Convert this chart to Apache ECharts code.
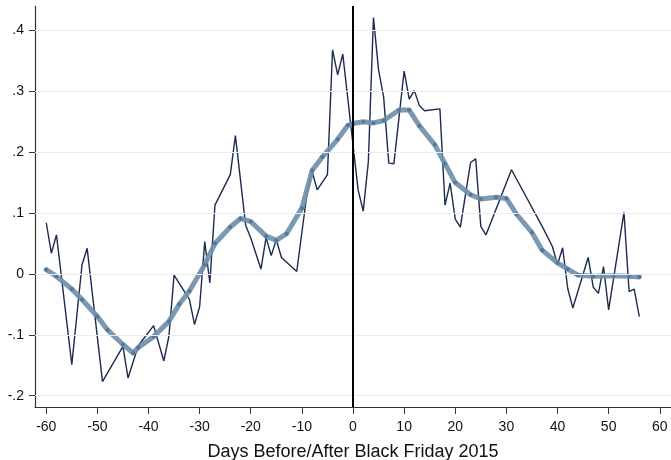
<!DOCTYPE html>
<html>
<head>
<meta charset="utf-8">
<script src="https://cdn.jsdelivr.net/npm/echarts@6/dist/echarts.min.js"></script>
<style>
  html, body { margin: 0; padding: 0; background: #fff; }
  #chart { width: 671px; height: 460px; }
</style>
</head>
<body>
<div id="chart"></div>
<script>
// Daily series around Black Friday 2015 (days relative to the event)
const rawDays = [-60, -59, -58, -55, -53, -52, -49, -45, -44, -42, -39, -37, -36, -35, -32, -31, -30, -29, -28, -27,
  -24, -23, -21, -20, -18, -17, -16, -15, -14, -11, -9, -8, -7, -5, -4, -3, -2, 1, 2, 3,
  4, 5, 6, 7, 8, 10, 11, 12, 13, 14, 17, 18, 19, 20, 21, 23, 24, 25, 26, 31,
  37, 39, 40, 41, 42, 43, 46, 47, 48, 49, 50, 53, 54, 55, 56];
const rawValues = [0.084, 0.034, 0.064, -0.149, 0.015, 0.042, -0.177, -0.119, -0.171, -0.118, -0.085, -0.143, -0.102, -0.002, -0.042, -0.083, -0.054, 0.053, -0.015, 0.113,
  0.163, 0.227, 0.080, 0.059, 0.008, 0.060, 0.030, 0.056, 0.027, 0.004, 0.132, 0.168, 0.138, 0.163, 0.368, 0.327, 0.361, 0.138, 0.103, 0.184,
  0.421, 0.335, 0.290, 0.182, 0.181, 0.333, 0.287, 0.301, 0.276, 0.268, 0.271, 0.113, 0.149, 0.090, 0.077, 0.183, 0.189, 0.078, 0.064, 0.171,
  0.078, 0.045, 0.015, 0.043, -0.024, -0.056, 0.027, -0.022, -0.032, 0.012, -0.059, 0.101, -0.029, -0.025, -0.070];

// Lowess-smoothed trend
const smoothDays = [-60, -58, -55, -53, -50, -48, -45, -43, -42, -39, -36, -34, -32, -29, -27, -24, -22, -20, -17, -15,
  -13, -10, -8, -6, -3, -1, 0, 2, 4, 6, 9, 11, 13, 16, 18, 20, 23, 25, 28, 30,
  32, 35, 37, 40, 42, 44, 47, 51, 54, 56];
const smoothValues = [0.007, -0.004, -0.025, -0.042, -0.070, -0.092, -0.116, -0.130, -0.121, -0.103, -0.078, -0.050, -0.028, 0.015, 0.050, 0.077, 0.091, 0.086, 0.062, 0.055,
  0.066, 0.108, 0.170, 0.192, 0.221, 0.244, 0.247, 0.250, 0.248, 0.252, 0.269, 0.269, 0.243, 0.212, 0.181, 0.150, 0.130, 0.123, 0.126, 0.124,
  0.098, 0.068, 0.039, 0.018, 0.008, -0.002, -0.004, -0.003, -0.004, -0.005];

const xTicks = [-60, -50, -40, -30, -20, -10, 0, 10, 20, 30, 40, 50, 60];
const yTicks = [-0.2, -0.1, 0, 0.1, 0.2, 0.3, 0.4];
const yTickLabels = ['-.2', '-.1', '0', '.1', '.2', '.3', '.4'];
const eventDay = [0];

const zip = (xs, ys) => xs.map((x, i) => [x, ys[i]]);
const font = 'Liberation Sans, Arial, sans-serif';

const chart = echarts.init(document.getElementById('chart'), null, { renderer: 'canvas' });
chart.setOption({
  animation: false,
  backgroundColor: '#ffffff',
  grid: { left: 35, right: 0, top: 6, bottom: 53, containLabel: false, outerBoundsMode: 'none' },
  xAxis: {
    type: 'value',
    min: -62.2,
    max: 62.2,
    name: 'Days Before/After Black Friday 2015',
    nameLocation: 'middle',
    nameGap: 36,
    nameTextStyle: { fontFamily: font, fontSize: 18, color: '#111' },
    axisLine: { show: true, onZero: false, lineStyle: { color: '#333', width: 1.2 } },
    axisTick: { show: true, length: 7, customValues: xTicks, lineStyle: { color: '#333' } },
    axisLabel: {
      customValues: xTicks, margin: 13,
      fontFamily: font, fontSize: 14, color: '#111'
    },
    splitLine: { show: false }
  },
  yAxis: {
    type: 'value',
    min: -0.2186,
    max: 0.44,
    axisLine: { show: true, onZero: false, lineStyle: { color: '#333', width: 1.2 } },
    axisTick: { show: true, length: 6, customValues: yTicks, lineStyle: { color: '#333' } },
    axisLabel: {
      customValues: yTicks, margin: 11,
      fontFamily: font, fontSize: 14, color: '#111',
      formatter: v => {
        const i = yTicks.findIndex(t => Math.abs(t - v) < 1e-6);
        return i >= 0 ? yTickLabels[i] : '';
      }
    },
    splitLine: { show: false }
  },
  series: [
    {
      name: 'grid',
      type: 'line',
      data: [],
      silent: true,
      markLine: {
        silent: true,
        symbol: 'none',
        label: { show: false },
        lineStyle: { color: '#e6edf1', width: 1.2, type: 'solid' },
        data: yTicks.map(t => ({ yAxis: t }))
      },
      z: 1
    },
    {
      name: 'daily',
      type: 'line',
      data: zip(rawDays, rawValues),
      showSymbol: false,
      symbol: 'none',
      lineStyle: { color: '#1b2a50', width: 1.4 },
      z: 3
    },
    {
      name: 'smoothed',
      type: 'line',
      data: zip(smoothDays, smoothValues),
      symbol: 'circle',
      symbolSize: 4,
      showSymbol: true,
      itemStyle: { color: '#55789a', borderWidth: 0 },
      lineStyle: { color: '#7090ab', width: 5, opacity: 0.92, cap: 'round', join: 'round' },
      z: 4
    },
    {
      name: 'event',
      type: 'line',
      data: [],
      silent: true,
      markLine: {
        silent: true,
        symbol: 'none',
        label: { show: false },
        lineStyle: { color: '#000', width: 2, type: 'solid' },
        data: eventDay.map(d => ({ xAxis: d }))
      },
      z: 5
    }
  ]
});
</script>
</body>
</html>
